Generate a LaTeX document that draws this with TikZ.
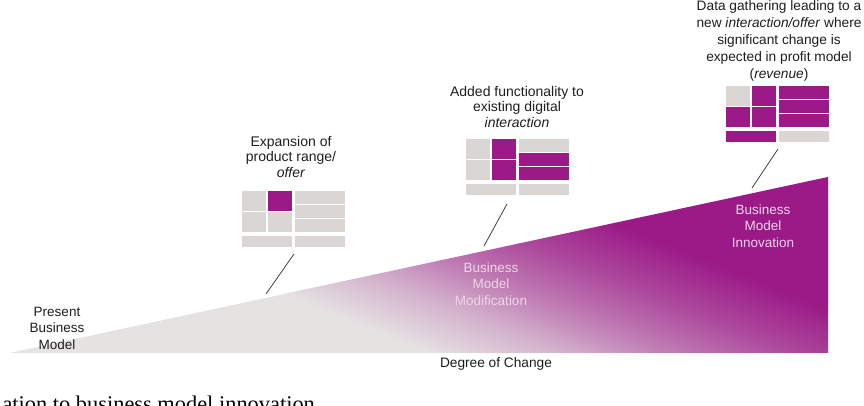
\documentclass[tikz,border=0pt]{standalone}
\usepackage{fontspec}
\setmainfont{Liberation Sans}
\newfontfamily\capfont{Liberation Serif}
\usetikzlibrary{positioning}

\definecolor{bmgrey}{RGB}{218,214,212}
\definecolor{bmplum}{RGB}{155,26,135}
\definecolor{bmfaint}{RGB}{229,226,226}
\definecolor{bmink}{RGB}{30,30,30}
\definecolor{bmpale}{RGB}{238,212,234}

% canvas grid: 2x2 block, 3 rows, 2 bars (top-left at origin)
\newcommand{\bmgrid}[9]{%
  \fill[#1] (0,0) rectangle (24,-19.75);
  \fill[#2] (25.5,0) rectangle (49.5,-19.75);
  \fill[#3] (0,-21.25) rectangle (24,-41);
  \fill[#4] (25.5,-21.25) rectangle (49.5,-41);
  \fill[#5] (53,0) rectangle (103,-12.7);
  \fill[#6] (53,-14.2) rectangle (103,-26.8);
  \fill[#7] (53,-28.3) rectangle (103,-41);
  \fill[#8] (0,-45) rectangle (49.5,-56);
  \fill[#9] (53,-45) rectangle (103,-56);
}

\begin{document}
\begin{tikzpicture}[x=1pt, y=1pt,
  note/.style={align=center, text=bmink, font=\fontsize{14}{15.5}\selectfont},
  stage/.style={align=center, font=\fontsize{13.5}{16.5}\selectfont},
  tick/.style={draw=bmink!85, line width=0.8pt}
]
\useasboundingbox (0,0) rectangle (864,406);
\clip (0,0) rectangle (864,406);

% wedge of change
\coordinate (tip) at (10,53);
\coordinate (peak) at (828,229);
\coordinate (corner) at (828,53);
\begin{scope}
  \clip (tip) -- (peak) -- (corner) -- cycle;
  \fill[bmfaint] (0,0) rectangle (864,406);
  \begin{scope}[transform canvas={rotate=-22}]
    \shade[bottom color=bmfaint, top color=bmplum!25!bmfaint] (-300,210) rectangle (1300,262);
    \shade[bottom color=bmplum!25!bmfaint, top color=bmplum!50!bmfaint] (-300,261.5) rectangle (1300,300);
    \shade[bottom color=bmplum!50!bmfaint, top color=bmplum!75!bmfaint] (-300,299.5) rectangle (1300,345);
    \shade[bottom color=bmplum!75!bmfaint, top color=bmplum] (-300,344.5) rectangle (1300,400);
    \fill[bmplum] (-300,399.5) rectangle (1300,800);
  \end{scope}
\end{scope}

\node[stage, text=bmink] (present) at (57,78) {Present\\Business\\Model};
\node[stage, text=bmpale] (bmm) at (491,122) {Business\\Model\\Modification};
\node[stage, text=bmpale] (bmi) at (763,180) {Business\\Model\\Innovation};
\node[note, font=\fontsize{13.7}{16}\selectfont] (degree) at (496,42) {Degree of Change};

% canvases
\begin{scope}[shift={(242,215)}]
  \bmgrid{bmgrey}{bmplum}{bmgrey}{bmgrey}{bmgrey}{bmgrey}{bmgrey}{bmgrey}{bmgrey}
\end{scope}
\begin{scope}[shift={(466,267)}]
  \bmgrid{bmgrey}{bmplum}{bmgrey}{bmplum}{bmgrey}{bmplum}{bmplum}{bmgrey}{bmgrey}
\end{scope}
\begin{scope}[shift={(726,320)}]
  \bmgrid{bmgrey}{bmplum}{bmplum}{bmplum}{bmplum}{bmplum}{bmplum}{bmplum}{bmgrey}
\end{scope}

\node[note] (offer) at (291,249) {Expansion of\\product range/\\\textit{offer}};
\node[note] (digital) at (517,299) {Added functionality to\\existing digital\\\textit{interaction}};
\node[note, font=\fontsize{13.7}{17.2}\selectfont] (revenue) at (779,365)
  {Data gathering leading to a\\new \textit{interaction/offer} where\\significant change is\\expected in profit model\\(\textit{revenue})};

% pointers from wedge to canvases
\coordinate (w1) at (266,112);
\coordinate (c1) at (294,152);
\coordinate (w2) at (484,160);
\coordinate (c2) at (507,202);
\coordinate (w3) at (752,218);
\coordinate (c3) at (778,257);
\draw[tick] (w1) -- (c1);
\draw[tick] (w2) -- (c2);
\draw[tick] (w3) -- (c3);

\node[anchor=base west, font=\capfont\fontsize{22.4}{24}\selectfont, text=black] (caption) at (-1,-6)
  {ation to business model innovation};

\end{tikzpicture}
\end{document}
